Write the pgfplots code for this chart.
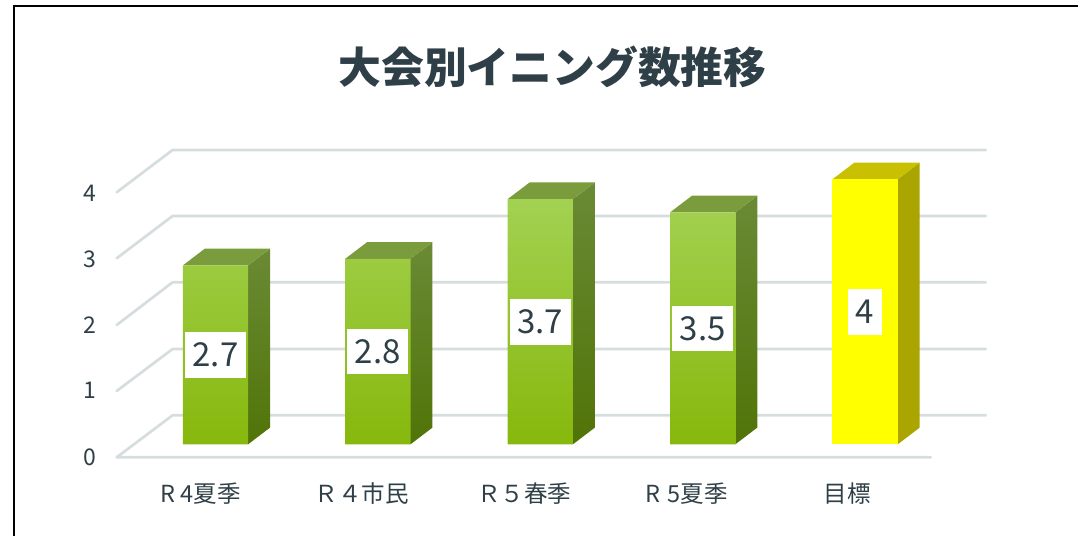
\documentclass[border=0pt]{standalone}
\usepackage{pgfplots}
\pgfplotsset{compat=1.18}
\usepackage{fontspec}
\setmainfont{Noto Sans CJK JP}
\definecolor{ink}{HTML}{2F3F47}
\definecolor{gridc}{HTML}{D6DDDE}
\definecolor{gt}{HTML}{A3D152}
\definecolor{gm}{HTML}{93C61C}
\definecolor{gb}{HTML}{86B80C}
\definecolor{st}{HTML}{6A8A35}
\definecolor{sb}{HTML}{517408}
\definecolor{tp}{HTML}{7A9C3C}
\definecolor{yt}{HTML}{C8C000}
\definecolor{ys}{HTML}{AAA500}
\definecolor{yf}{RGB}{255,255,0}
\pgfplotsset{
 gl/.style={color=gridc,line width=2.7pt,line cap=round,line join=round,mark=none,forget plot},
 bside/.style={draw=none,top color=st,bottom color=sb,forget plot},
 btop/.style={draw=none,fill=tp,forget plot},
 yside/.style={draw=none,fill=ys,forget plot},
 ytop/.style={draw=none,fill=yt,forget plot}}
\begin{document}
\begin{tikzpicture}[x=1pt,y=1pt]
\useasboundingbox (0,0) rectangle (1078,535);
\draw[black,line width=2pt] (14,-2) -- (14,528.5) -- (1080,528.5);
\node[font=\fontsize{42.8}{42.8}\selectfont\bfseries,text=ink,anchor=center] at (552.5,468.5) {大会別イニング数推移};
\begin{axis}[
 at={(116.7pt,77.7pt)},anchor=south west,
 scale only axis,width=814pt,height=278pt,
 xmin=-0.608,xmax=4.404,ymin=-0.196,ymax=4,
 clip=false,
 axis line style={draw=none},
 major tick length=0pt,
 xtick={-0.09,0.9,1.9,2.9,3.89},
 xticklabels={R 4夏季,Ｒ４市民,Ｒ５春季,R\,\,5夏季,目標},
 ytick={-0.19,0.808,1.804,2.8,3.782},
 yticklabels={0,1,2,3,4},
 tick label style={text=ink},
 xticklabel style={yshift=-22pt,font=\fontsize{23.5}{23.5}\selectfont},
 yticklabel style={xshift=-17pt,font=\fontsize{23}{23}\selectfont},
 /pgf/number format/assume math mode=true,
]
% grid lines: front-left edge, back edge
\addplot[gl] coordinates {(-0.608,3.804)(-0.264,4.442)(4.743,4.442)};
\addplot[gl] coordinates {(-0.608,2.808)(-0.264,3.446)(4.743,3.446)};
\addplot[gl] coordinates {(-0.608,1.801)(-0.264,2.445)(4.743,2.445)};
\addplot[gl] coordinates {(-0.608,0.805)(-0.264,1.438)(4.743,1.438)};
\addplot[gl] coordinates {(4.404,-0.196)(-0.608,-0.196)(-0.264,0.438)(4.743,0.438)};
% sides
\addplot[bside] coordinates {(0.201,0)(0.336,0.252)(0.336,2.952)(0.201,2.7)} --cycle;
\addplot[bside] coordinates {(1.201,0)(1.336,0.252)(1.336,3.052)(1.201,2.8)} --cycle;
\addplot[bside] coordinates {(2.201,0)(2.336,0.252)(2.336,3.952)(2.201,3.7)} --cycle;
\addplot[bside] coordinates {(3.201,0)(3.336,0.252)(3.336,3.752)(3.201,3.5)} --cycle;
\addplot[yside] coordinates {(4.201,0)(4.336,0.252)(4.336,4.252)(4.201,4)} --cycle;
% tops
\addplot[btop] coordinates {(-0.201,2.7)(0.201,2.7)(0.336,2.952)(-0.066,2.952)} --cycle;
\addplot[btop] coordinates {(0.799,2.8)(1.201,2.8)(1.336,3.052)(0.934,3.052)} --cycle;
\addplot[btop] coordinates {(1.799,3.7)(2.201,3.7)(2.336,3.952)(1.934,3.952)} --cycle;
\addplot[btop] coordinates {(2.799,3.5)(3.201,3.5)(3.336,3.752)(2.934,3.752)} --cycle;
\addplot[ytop] coordinates {(3.799,4)(4.201,4)(4.336,4.252)(3.934,4.252)} --cycle;
% fronts
\addplot[ybar,bar width=65.3pt,bar shift=0pt,draw=none,top color=gt,middle color=gm,bottom color=gb,forget plot]
 coordinates {(0,2.7)(1,2.8)(2,3.7)(3,3.5)};
\addplot[ybar,bar width=65.3pt,bar shift=0pt,draw=none,fill=yf,forget plot]
 coordinates {(4,4)};
% value labels
\addplot[only marks,mark=none,forget plot,point meta=explicit symbolic,
 nodes near coords,nodes near coords align={center},
 every node near coord/.append style={fill=white,text=ink,inner xsep=7.5pt,inner ysep=0pt,
  minimum height=45.7pt,font=\fontsize{33}{33}\selectfont,anchor=center}]
 coordinates {(0,1.35)[2.7](1,1.4)[2.8](2,1.85)[3.7](3,1.75)[3.5](4,2)[4]};
\end{axis}
\end{tikzpicture}
\end{document}
